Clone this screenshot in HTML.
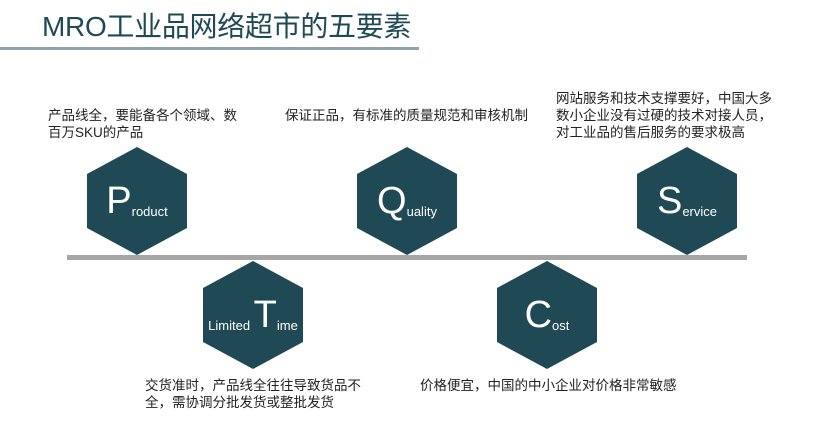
<!DOCTYPE html>
<html><head><meta charset="utf-8"><style>
body{margin:0;width:819px;height:440px;background:#fff;position:relative;overflow:hidden;font-family:"Liberation Sans","Noto Sans CJK SC",sans-serif}
.t{position:absolute;font-size:13.5px;line-height:17px;color:#222;white-space:nowrap}
.hex{position:absolute;width:100px;height:108px;background:#1f4a55;clip-path:polygon(50% 0,100% 25%,100% 75%,50% 100%,0 75%,0 25%);color:#fff;display:flex;align-items:center;justify-content:center}
.hex b{font-weight:normal;font-size:38px;line-height:38px}
.hex span{font-size:13px;align-self:center;margin-top:20px}
</style></head><body>
<div style="position:absolute;left:42px;top:10px;font-size:28px;color:#1f4a55;line-height:34px;letter-spacing:-0.3px">MRO工业品网络超市的五要素</div>
<div style="position:absolute;left:0;top:47px;width:419px;height:3px;background:#8fa3a8"></div>
<div style="position:absolute;left:67px;top:255px;width:680px;height:5px;background:#a6a6a6"></div>
<div class="t" style="left:48px;top:107px">产品线全，要能备各个领域、数<br>百万SKU的产品</div>
<div class="t" style="left:285px;top:107px">保证正品，有标准的质量规范和审核机制</div>
<div class="t" style="left:556px;top:90px">网站服务和技术支撑要好，中国大多<br>数小企业没有过硬的技术对接人员，<br>对工业品的售后服务的要求极高</div>
<div class="t" style="left:145px;top:377px">交货准时，产品线全往往导致货品不<br>全，需协调分批发货或整批发货</div>
<div class="t" style="left:420px;top:377px">价格便宜，中国的中小企业对价格非常敏感</div>
<div class="hex" style="left:87px;top:147px"><b>P</b><span>roduct</span></div>
<div class="hex" style="left:357px;top:147px"><b>Q</b><span>uality</span></div>
<div class="hex" style="left:637px;top:147px"><b>S</b><span>ervice</span></div>
<div class="hex" style="left:203px;top:261px"><span>Limited&nbsp;</span><b>T</b><span>ime</span></div>
<div class="hex" style="left:497px;top:261px"><b>C</b><span>ost</span></div>
</body></html>
